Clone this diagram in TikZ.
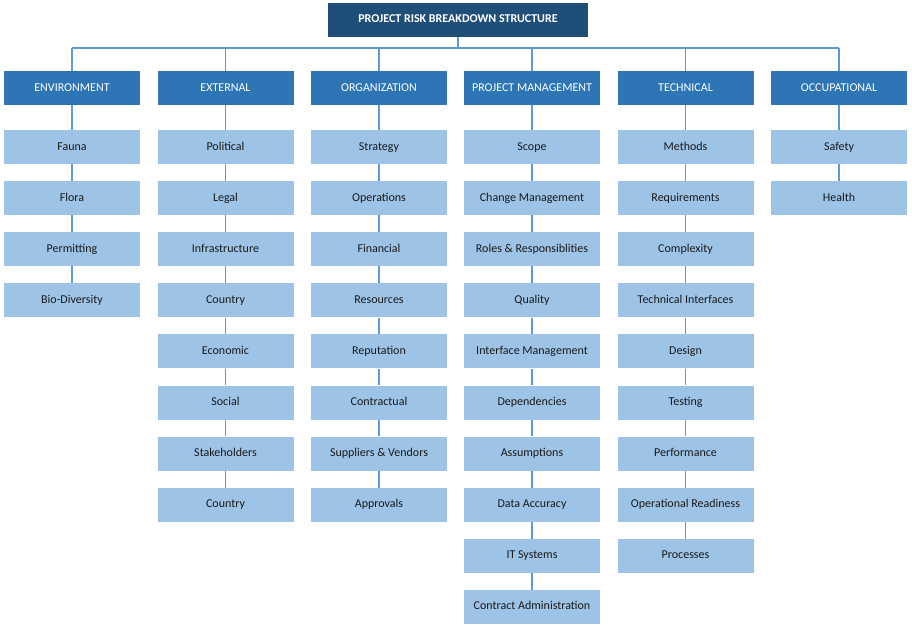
\documentclass[tikz,border=0pt]{standalone}
\usepackage{fontspec}
\setmainfont{Carlito}
\definecolor{navy}{HTML}{1F4E79}
\definecolor{catblue}{HTML}{2E75B6}
\definecolor{itemblue}{HTML}{9DC3E6}
\definecolor{lineblue}{HTML}{5B9BD5}
\definecolor{txt}{HTML}{1A1A1A}
\begin{document}
\begin{tikzpicture}[x=1pt,y=-1pt,
  boxbase/.style={minimum width=136pt,minimum height=34pt,inner sep=0pt,text height=8.6pt,text depth=2.6pt},
  titlebox/.style={boxbase,fill=navy,text=white,font=\fontsize{12}{14}\selectfont\bfseries,minimum width=260pt},
  catbox/.style={boxbase,fill=catblue,text=white,font=\fontsize{12}{14}\selectfont},
  itembox/.style={boxbase,fill=itemblue,text=txt,font=\fontsize{12}{14}\selectfont},
  conn/.style={draw=lineblue,line width=1.1pt}]
\useasboundingbox (0,0) rectangle (912,629);
\node[titlebox] (top) at (458,19.5) {PROJECT RISK BREAKDOWN STRUCTURE};
\coordinate (bus) at (458,48);
\def\cy{88}
\node[catbox] (c1) at (72,\cy) {ENVIRONMENT};
\node[catbox] (c2) at (225.5,\cy) {EXTERNAL};
\node[catbox] (c3) at (379,\cy) {ORGANIZATION};
\node[catbox] (c4) at (532,\cy) {PROJECT MANAGEMENT};
\node[catbox] (c5) at (685.5,\cy) {TECHNICAL};
\node[catbox] (c6) at (839,\cy) {OCCUPATIONAL};
\coordinate (b1) at (72,48);
\coordinate (b6) at (839,48);
\draw[conn] (top.south) -- (bus);
\draw[conn] (b1) -- (b6);
\foreach \i in {1,...,6}{\draw[conn] (c\i.north |- bus) -- (c\i.north);}
% items
\newcommand{\col}[3]{%
  \foreach \t [count=\k] in {#3}{%
    \pgfmathsetmacro{\yy}{147+51.1*(\k-1)}
    \node[itembox] (#1-\k) at (#2,\yy) {\t};
  }}
\col{e}{72}{Fauna,Flora,Permitting,Bio-Diversity}
\col{x}{225.5}{Political,Legal,Infrastructure,Country,Economic,Social,Stakeholders,Country}
\col{o}{379}{Strategy,Operations,Financial,Resources,Reputation,Contractual,Suppliers \& Vendors,Approvals}
\col{p}{532}{Scope,Change Management,Roles \& Responsiblities,Quality,Interface Management,Dependencies,Assumptions,Data Accuracy,IT Systems,Contract Administration}
\col{t}{685.5}{Methods,Requirements,Complexity,Technical Interfaces,Design,Testing,Performance,Operational Readiness,Processes}
\col{s}{839}{Safety,Health}
\draw[conn] (c1.south) -- (e-1.north);
\foreach \k [evaluate=\k as \n using int(\k+1)] in {1,...,3}{\draw[conn] (e-\k.south) -- (e-\n.north);}
\draw[conn] (c2.south) -- (x-1.north);
\foreach \k [evaluate=\k as \n using int(\k+1)] in {1,...,7}{\draw[conn] (x-\k.south) -- (x-\n.north);}
\draw[conn] (c3.south) -- (o-1.north);
\foreach \k [evaluate=\k as \n using int(\k+1)] in {1,...,7}{\draw[conn] (o-\k.south) -- (o-\n.north);}
\draw[conn] (c4.south) -- (p-1.north);
\foreach \k [evaluate=\k as \n using int(\k+1)] in {1,...,9}{\draw[conn] (p-\k.south) -- (p-\n.north);}
\draw[conn] (c5.south) -- (t-1.north);
\foreach \k [evaluate=\k as \n using int(\k+1)] in {1,...,8}{\draw[conn] (t-\k.south) -- (t-\n.north);}
\draw[conn] (c6.south) -- (s-1.north);
\draw[conn] (s-1.south) -- (s-2.north);
\end{tikzpicture}
\end{document}
